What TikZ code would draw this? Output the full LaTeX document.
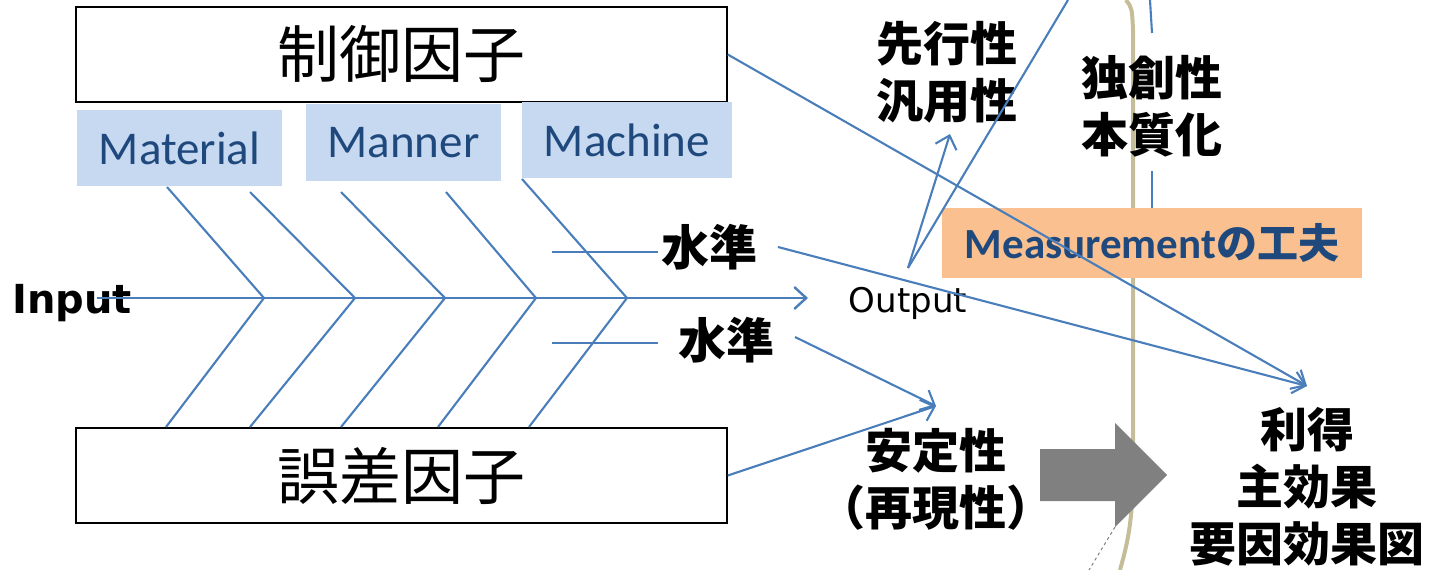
\documentclass[tikz,border=0pt]{standalone}
\usepackage{fontspec}
\usetikzlibrary{arrows.meta}
\newfontfamily\jp{Noto Sans CJK JP}
\newfontfamily\dvs{DejaVu Sans}
\newfontfamily\cbr{Carlito}
\definecolor{bline}{HTML}{4A7EBB}
\definecolor{lblue}{HTML}{C6D9F1}
\definecolor{dblue}{HTML}{1F497D}
\definecolor{peach}{HTML}{FAC090}
\definecolor{tan}{HTML}{C4BD97}
\definecolor{bigarr}{HTML}{808080}
\begin{document}
\begin{tikzpicture}[x=1pt,y=-1pt,
  bl/.style={draw=bline,line width=2.1pt},
  arr/.style={bl,-{Straight Barb[length=12pt,width=22pt]}},
  factor/.style={draw=black,line width=1.6pt,minimum width=651pt,minimum height=95pt,inner sep=0pt,font=\jp\fontsize{62}{66}\selectfont},
  lbox/.style={fill=lblue,inner sep=0pt,text=dblue,font=\cbr\fontsize{47}{50}\selectfont},
  btxt/.style={font=\jp\bfseries\fontsize{47}{57}\selectfont,align=center,inner sep=0pt},
  lvl/.style={font=\jp\bfseries\fontsize{48}{52}\selectfont,inner sep=0pt}]
\useasboundingbox (0,0) rectangle (1438,570);

% tan curved line
\draw[tan,line width=4pt] (1126,0) .. controls (1132,8) .. (1133,30) -- (1133,470) .. controls (1133,525) and (1126,548) .. (1120,570);

% factor boxes
\node[factor] (ctrl) at (401.5,54.5) {制御因子};
\node[factor] (noise) at (401.5,475.5) {誤差因子};

% 4M boxes
\node[lbox,minimum width=205pt,minimum height=76pt] (mat) at (179.5,148) {Material};
\node[lbox,minimum width=195pt,minimum height=77pt] (man) at (403.5,142.5) {Manner};
\node[lbox,minimum width=210pt,minimum height=76pt] (mac) at (627,140) {Machine};

% input / output
\node[font=\dvs\bfseries\fontsize{40}{44}\selectfont,inner sep=0pt,anchor=base west] (in) at (12,313) {Input};
\node[font=\dvs\fontsize{34}{38}\selectfont,inner sep=0pt,anchor=base] (out) at (908,312) {Output};

% spine
\coordinate (s0) at (97,298);
\coordinate (s1) at (808,298);
\draw[bl,line width=2.4pt,-{Straight Barb[length=12pt,width=22pt]}] (s0) -- (s1);

% bones
\foreach \ux/\uy/\vx/\lx [count=\i] in {167/187/264/166, 250/192/355/250, 341/192/445/341, 446/192/536/438, 522/179/627/529}{
  \coordinate (u\i) at (\ux,\uy);
  \coordinate (v\i) at (\vx,298);
  \coordinate (l\i) at (\lx,427);
  \draw[bl] (u\i) -- (v\i) -- (l\i);
}

% level labels
\node[lvl] (lv1) at (709,247) {水準};
\node[lvl] (lv2) at (726,340) {水準};
\coordinate (h1a) at (552,252); \coordinate (h1b) at (658,252);
\coordinate (h2a) at (552,343); \coordinate (h2b) at (658,343);
\draw[bl] (h1a) -- (h1b);
\draw[bl] (h2a) -- (h2b);

% measurement box
\node[fill=peach,minimum width=420pt,minimum height=70pt,inner sep=0pt,text=dblue,font=\cbr\bfseries\fontsize{43}{46}\selectfont] (meas) at (1152,243) {Measurement{\jp\bfseries\fontsize{41}{44}\selectfont の工夫}};

% text groups
\node[btxt] (adv) at (947,72) {先行性\\汎用性};
\node[btxt] (orig) at (1152,106) {独創性\\本質化};
\node[btxt] (stab) at (936,479) {安定性\\（再現性）};
\node[btxt] (gain) at (1307,487) {利得\\主効果\\要因効果図};

% blue vertical segments around 独創性
\coordinate (t0) at (1150,0);
\coordinate (t1) at (1152,33);
\coordinate (t2) at (1152,171);
\draw[bl] (t0) -- (t1);
\draw[bl] (t2) -- (meas.north -| t2);

% arrows
\coordinate (gt) at (1307,386);
\coordinate (st) at (936,406);
\coordinate (o1) at (908,268);
\coordinate (g1) at (950,134);
\coordinate (top) at (1068,0);
\draw[arr] (ctrl.east) -- (gt);
\draw[arr] (778,247) -- (gt);
\draw[arr] (795,337) -- (st);
\draw[arr] (noise.east) -- (st);
\draw[arr] (o1) -- (g1);
\draw[bl] (o1) -- (top);

% big grey arrow
\fill[bigarr] (1040,449) -- (1115,449) -- (1115,423) -- (1167,475) -- (1115,527) -- (1115,501) -- (1040,501) -- cycle;
\coordinate (d0) at (1115,527);
\coordinate (d1) at (1089,570);
\draw[gray,line width=1pt,dashed] (d0) -- (d1);
\end{tikzpicture}
\end{document}
